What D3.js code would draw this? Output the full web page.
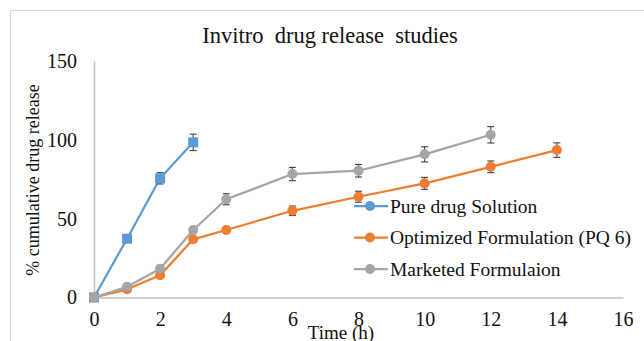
<!DOCTYPE html>
<html><head><meta charset="utf-8">
<script src="https://cdn.jsdelivr.net/npm/d3@7"></script>
<style>html,body{margin:0;padding:0;background:#fff;overflow:hidden}</style>
</head><body>
<svg id="c" width="644" height="341"></svg>
<script>
const title = "Invitro  drug release  studies";
const xTicks = [0,2,4,6,8,10,12,14,16];
const yTicks = [0,50,100,150];
const seriesNames = ["Pure drug Solution","Optimized Formulation (PQ 6)","Marketed Formulaion"];
const seriesColors = ["#5b9bd5","#ed7d31","#a5a5a5"];
const pureTime = [0,1,2,3];
const pureValues = [0,37.3,75.6,98.4];
const pureErr = [0,1,3.6,5.2];
const optTime = [0,1,2,3,4,6,8,10,12,14];
const optValues = [0,5.2,14.1,36.9,42.8,55,63.9,72.4,82.9,93.5];
const optErr = [0,1,1,1.5,1.8,3,3.5,3.8,3.7,4.6];
const mktTime = [0,1,2,3,4,6,8,10,12];
const mktValues = [0,6.8,18.3,42.8,62.3,78.3,80.4,90.8,103.2];
const mktErr = [0,1,1.5,1.5,3.5,4.2,4,4.8,5.2];

const series = [
  {name:seriesNames[0], color:seriesColors[0], t:pureTime, v:pureValues, e:pureErr, marker:"square"},
  {name:seriesNames[1], color:seriesColors[1], t:optTime, v:optValues, e:optErr, marker:"circle"},
  {name:seriesNames[2], color:seriesColors[2], t:mktTime, v:mktValues, e:mktErr, marker:"circle"}
];

const svg = d3.select("#c");
const font = "'Liberation Serif','Times New Roman',serif";
const txt = "#111";

svg.append("rect").attr("x",10.5).attr("y",10.5).attr("width",700).attr("height",400)
  .attr("fill","none").attr("stroke","#d9d9d9").attr("stroke-width",1);

const x = d3.scaleLinear().domain([0,16]).range([94,623]);
const y = d3.scaleLinear().domain([0,150]).range([297.5,61]);

const gx = svg.append("g").attr("transform","translate(0,297.5)")
  .call(d3.axisBottom(x).tickValues(xTicks).tickSize(0).tickPadding(14));
const gy = svg.append("g").attr("transform","translate(94,0)")
  .call(d3.axisLeft(y).tickValues(yTicks).tickSize(0).tickPadding(17));
[gx,gy].forEach(g=>{
  g.select(".domain").attr("stroke","#bfbfbf").attr("stroke-width",1.5);
  g.selectAll("text").attr("font-family",font).attr("font-size",20).attr("fill",txt);
});

svg.append("text").attr("x",330).attr("y",43).attr("text-anchor","middle")
  .attr("font-family",font).attr("font-size",22.5).attr("fill",txt)
  .style("white-space","pre").text(title);
svg.append("text").attr("transform","translate(39,180) rotate(-90)").attr("text-anchor","middle")
  .attr("font-family",font).attr("font-size",18).attr("fill",txt).text("% cumulative drug release");
svg.append("text").attr("x",341).attr("y",339).attr("text-anchor","middle")
  .attr("font-family",font).attr("font-size",19).attr("fill",txt).text("Time (h)");

const line = d3.line().x(d=>x(d[0])).y(d=>y(d[1]));
series.forEach(s=>{
  const pts = s.t.map((t,i)=>[t,s.v[i],s.e[i]]);
  const g = svg.append("g");
  g.append("path").datum(pts).attr("d",line).attr("fill","none")
    .attr("stroke",s.color).attr("stroke-width",2.25).attr("stroke-linejoin","round");
  const eb = g.selectAll(".eb").data(pts.filter(d=>d[2]>0)).enter().append("g");
  eb.append("line").attr("x1",d=>x(d[0])).attr("x2",d=>x(d[0])).attr("y1",d=>y(d[1]+d[2])).attr("y2",d=>y(d[1]-d[2]))
    .attr("stroke","#404040").attr("stroke-width",1.1);
  [1,-1].forEach(sg=>{
    eb.append("line").attr("x1",d=>x(d[0])-3.5).attr("x2",d=>x(d[0])+3.5)
      .attr("y1",d=>y(d[1]+sg*d[2])).attr("y2",d=>y(d[1]+sg*d[2]))
      .attr("stroke","#404040").attr("stroke-width",1.1);
  });
  if(s.marker==="square"){
    g.selectAll(".m").data(pts).enter().append("rect")
      .attr("x",d=>x(d[0])-5).attr("y",d=>y(d[1])-5).attr("width",10).attr("height",10)
      .attr("fill",s.color);
  } else {
    g.selectAll(".m").data(pts).enter().append("circle")
      .attr("cx",d=>x(d[0])).attr("cy",d=>y(d[1])).attr("r",5).attr("fill",s.color);
  }
});

const legY = [206,237.5,269];
series.forEach((s,i)=>{
  const g = svg.append("g").attr("transform",`translate(0,${legY[i]})`);
  g.append("line").attr("x1",354).attr("x2",388).attr("y1",0).attr("y2",0)
    .attr("stroke",s.color).attr("stroke-width",2.25);
  g.append("circle").attr("cx",370).attr("cy",0).attr("r",5).attr("fill",s.color);
  g.append("text").attr("x",390).attr("y",6.5).attr("font-family",font).attr("font-size",19.5)
    .attr("fill",txt).text(s.name);
});
</script>
</body></html>
